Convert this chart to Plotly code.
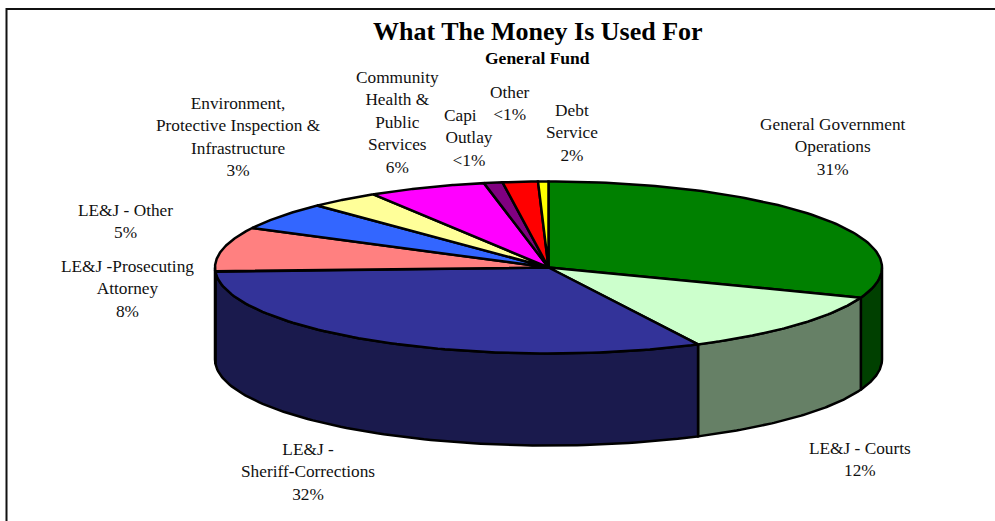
import numpy as np
import plotly.graph_objects as go

# General fund spending shares, in the order drawn clockwise from twelve o'clock
categories = ["General Government<br>Operations", "LE&J - Courts", "LE&J -<br>Sheriff-Corrections",
              "LE&J -Prosecuting<br>Attorney", "LE&J - Other",
              "Environment,<br>Protective Inspection &<br>Infrastructure",
              "Community<br>Health &<br>Public<br>Services",
              "Capi\u00a0\u00a0\u00a0\u00a0<br>Outlay", "Debt<br>Service", "Other"]
shares = [30.7, 11.9, 31.6, 8.4, 5.2, 3.4, 5.7, 0.9, 1.7, 0.5]
top_colors = ["#008000", "#CCFFCC", "#333399", "#FF8080", "#3366FF",
              "#FFFF99", "#FF00FF", "#800080", "#FF0000", "#FFFF00"]
wall_colors = ["#004000", "#668066", "#1A1A4D", "#804040", "#1A3380",
               "#80804D", "#800080", "#400040", "#800000", "#808000"]
label_x = [833, 859.5, 307.5, 127.5, 125.5, 238.5, 397, 469, 572, 510]
label_y = [146.5, 459.5, 471.5, 288.5, 221, 136.5, 122, 137.5, 132.5, 103]

# Pie geometry on a pixel-sized axis
CX, CY, RX, RY, DEPTH = 548.5, 267.5, 333.5, 86, 92
LINE_W = 2.5


def rim(a, b, n=90):
    t = np.radians(np.linspace(a, b, n))
    return CX + RX * np.sin(t), CY - RY * np.cos(t)


def share_text(v):
    return "<1%" if v < 1 else f"{round(v)}%"


fig = go.Figure()
edges = np.cumsum([0] + shares) / sum(shares) * 360

# Side wall: only the part of the rim facing the viewer (90 to 270 degrees)
for i, col in enumerate(wall_colors):
    a, b = max(edges[i], 90), min(edges[i + 1], 270)
    if a >= b:
        continue
    x, y = rim(a, b)
    fig.add_trace(go.Scatter(
        x=np.r_[x, x[::-1], x[0]], y=np.r_[y, y[::-1] + DEPTH, y[0]],
        mode="lines", fill="toself", fillcolor=col,
        line=dict(color="black", width=LINE_W), hoverinfo="skip", showlegend=False))

# Top face wedges
for i, col in enumerate(top_colors):
    x, y = rim(edges[i], edges[i + 1])
    fig.add_trace(go.Scatter(
        x=np.r_[CX, x, CX], y=np.r_[CY, y, CY],
        mode="lines", fill="toself", fillcolor=col,
        line=dict(color="black", width=LINE_W), hoverinfo="skip", showlegend=False))

for name, v, lx, ly in zip(categories, shares, label_x, label_y):
    fig.add_annotation(x=lx, y=ly, text=f"{name}<br>{share_text(v)}", showarrow=False,
                       align="center", font=dict(family="Liberation Serif", size=17.3, color="#111"))

fig.add_annotation(x=538, y=31, text="<b>What The Money Is Used For</b>", showarrow=False,
                   font=dict(family="Liberation Serif", size=26, color="black"))
fig.add_annotation(x=537.5, y=58, text="<b>General Fund</b>", showarrow=False,
                   font=dict(family="Liberation Serif", size=17.5, color="black"))

# Chart frame: left and top edges only
fig.add_shape(type="path", path="M 6.5 521 L 6.5 9 L 995 9",
              line=dict(color="#111", width=2), layer="below")

fig.update_layout(
    width=995, height=521, margin=dict(l=0, r=0, t=0, b=0),
    paper_bgcolor="white", plot_bgcolor="white", showlegend=False,
    xaxis=dict(range=[0, 995], visible=False, fixedrange=True),
    yaxis=dict(range=[521, 0], visible=False, fixedrange=True),
)
fig.write_html("out.html")
